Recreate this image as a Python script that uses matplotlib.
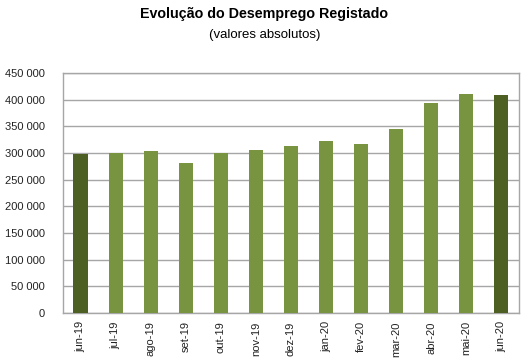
import matplotlib.pyplot as plt
from matplotlib.ticker import FuncFormatter

months = ["jun-19", "jul-19", "ago-19", "set-19", "out-19", "nov-19", "dez-19",
          "jan-20", "fev-20", "mar-20", "abr-20", "mai-20", "jun-20"]
desempregados = [298000, 299000, 304000, 281000, 300500, 306000, 312500,
                 322000, 316000, 345000, 394000, 410000, 408000]
# first and last month are highlighted in the darker green
highlight = [True] + [False] * 11 + [True]

dark_green = "#4e5f24"
light_green = "#789440"
colors = [dark_green if h else light_green for h in highlight]

fig = plt.figure(figsize=(5.29, 3.61), dpi=100)
ax = fig.add_axes([0.119, 0.133, 0.862, 0.665])

x = range(len(months))
ax.bar(x, desempregados, width=0.4, color=colors, zorder=3)

ax.set_xlim(-0.5, len(months) - 0.5)
ax.set_ylim(0, 450000)
ax.set_yticks(range(0, 450001, 50000))
ax.yaxis.set_major_formatter(FuncFormatter(lambda v, p: f"{int(v):,}".replace(",", " ")))
ax.set_xticks(list(x))
ax.set_xticklabels(months, rotation=90)
for lab in ax.get_xticklabels() + ax.get_yticklabels():
    lab.set_family("Liberation Sans")
ax.tick_params(axis="both", length=0, labelsize=8, colors="#222222")
ax.tick_params(axis="y", pad=13)
ax.tick_params(axis="x", pad=6)

ax.grid(axis="y", color="#a6a6a6", linewidth=1, zorder=0)
for s in ax.spines.values():
    s.set_color("#a6a6a6")
    s.set_linewidth(1)

fig.text(0.5, 0.962, "Evolução do Desemprego Registado", ha="center", va="center",
         fontsize=10.3, fontweight="bold", family="Liberation Sans")
fig.text(0.5, 0.903, "(valores absolutos)", ha="center", va="center",
         fontsize=9.5, family="Liberation Sans")

plt.savefig("out.png", dpi=100)
